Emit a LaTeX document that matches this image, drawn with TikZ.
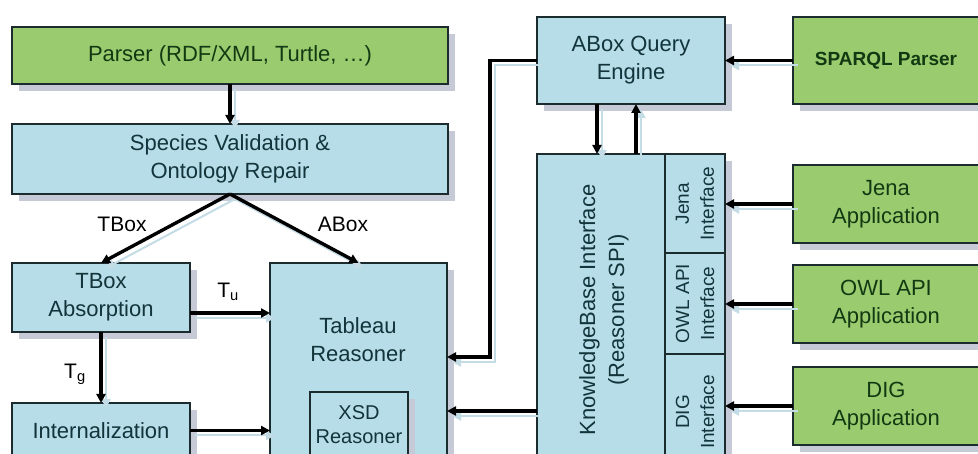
\documentclass[tikz,border=0pt]{standalone}
\usepackage{fontspec}
\setmainfont{Liberation Sans}
\usetikzlibrary{arrows.meta}

\definecolor{boxblue}{HTML}{B7DDE8}
\definecolor{boxgreen}{HTML}{9BCB6F}
\definecolor{edgecol}{HTML}{1C2B2E}
\definecolor{bluetext}{HTML}{12343A}
\definecolor{greentext}{HTML}{123A12}
\definecolor{lineshade}{HTML}{C4DCE6}
\definecolor{boxshade}{HTML}{C6CAD6}

\tikzset{
  basebox/.style={draw=edgecol, line width=2.2pt, inner sep=0pt, outer sep=0pt,
    align=center, anchor=north west},
  bluebox/.style={basebox, fill=boxblue, text=bluetext,
    font=\fontsize{22}{28}\selectfont},
  greenbox/.style={basebox, fill=boxgreen, text=greentext,
    font=\fontsize{22}{28}\selectfont},
  boxtext/.style={text=bluetext, align=center, inner sep=0pt},
  sidetext/.style={boxtext, rotate=90, font=\fontsize{19}{25}\selectfont},
  edgelabel/.style={text=black, inner sep=0pt, font=\fontsize{21}{25}\selectfont},
  arr/.style={line width=3.4pt, -{Triangle[length=9pt,width=9pt]},
    preaction={draw=lineshade, line width=2pt,
      transform canvas={xshift=5pt, yshift=-5pt}}},
  boxshadow/.style={fill=boxshade, draw=none},
}

\begin{document}
\begin{tikzpicture}[x=1pt, y=-1pt]
  \fill[white] (0,0) rectangle (978,454);
  \clip (0,0) rectangle (978,454);

  % left column: parsing and TBox preprocessing
  \node[greenbox, minimum width=436pt, minimum height=57pt] (parser) at (12,27)
    {Parser (RDF/XML, Turtle, \dots)};
  \node[bluebox, minimum width=436pt, minimum height=70pt] (species) at (12,124)
    {Species Validation \&\\Ontology Repair};
  \node[bluebox, minimum width=178pt, minimum height=69pt] (tbox) at (12,263)
    {TBox\\Absorption};
  \node[bluebox, minimum width=178pt, minimum height=55pt] (intern) at (12,403)
    {Internalization};

  % reasoner core
  \node[bluebox, minimum width=177pt, minimum height=217pt] (tab) at (270,263) {};
  \node[boxtext, font=\fontsize{22}{28}\selectfont] (tabtext) at (358,340)
    {Tableau\\Reasoner};
  \node[bluebox, minimum width=98pt, minimum height=66pt,
    font=\fontsize{20}{24}\selectfont] (xsd) at (310,392) {XSD\\Reasoner};

  % query engine and knowledge base interface
  \node[bluebox, minimum width=188pt, minimum height=87pt] (aq) at (537,17)
    {ABox Query\\Engine};
  \node[bluebox, minimum width=128pt, minimum height=326pt] (kb) at (537,154) {};
  \node[boxtext, rotate=90, font=\fontsize{22}{29}\selectfont] (kbtext) at (604,310)
    {KnowledgeBase Interface\\(Reasoner SPI)};
  \node[bluebox, minimum width=60pt, minimum height=99pt] (jint) at (665,154) {};
  \node[sidetext] (jinttext) at (jint.center) {Jena\\Interface};
  \node[bluebox, minimum width=60pt, minimum height=101pt] (oint) at (665,253) {};
  \node[sidetext] (ointtext) at (oint.center) {OWL API\\Interface};
  \node[bluebox, minimum width=60pt, minimum height=126pt] (dint) at (665,354) {};
  \node[sidetext] (dinttext) at (695,412) {DIG\\Interface};

  % client side
  \node[greenbox, minimum width=186pt, minimum height=87pt,
    font=\bfseries\fontsize{19}{24}\selectfont] (sparql) at (793,17) {SPARQL Parser};
  \node[greenbox, minimum width=186pt, minimum height=78pt] (japp) at (793,165)
    {Jena\\Application};
  \node[greenbox, minimum width=186pt, minimum height=78pt] (oapp) at (793,265)
    {OWL API\\Application};
  \node[greenbox, minimum width=186pt, minimum height=78pt] (dapp) at (793,367)
    {DIG\\Application};

  % drop shadows: strips along the right and lower edges of each box
  \fill[boxshadow] (449.2,34) rectangle (455,91);
  \fill[boxshadow] (19,85.2) rectangle (455,91);
  \fill[boxshadow] (449.2,131) rectangle (455,201);
  \fill[boxshadow] (19,195.2) rectangle (455,201);
  \fill[boxshadow] (191.2,270) rectangle (197,339);
  \fill[boxshadow] (19,333.2) rectangle (197,339);
  \fill[boxshadow] (191.2,410) rectangle (197,470);
  \fill[boxshadow] (448.2,270) rectangle (454,470);
  \fill[boxshadow] (409.2,399) rectangle (415,470);
  \fill[boxshadow] (726.2,24) rectangle (732,111);
  \fill[boxshadow] (544,105.2) rectangle (732,111);
  \fill[boxshadow] (726.2,161) rectangle (732,470);
  \fill[boxshadow] (800,105.2) rectangle (990,111);
  \fill[boxshadow] (800,244.2) rectangle (990,250);
  \fill[boxshadow] (800,344.2) rectangle (990,350);
  \fill[boxshadow] (800,446.2) rectangle (990,452);

  % connectors
  \draw[arr] (parser) -- (species);
  \draw[arr] (species.south) -- (tbox.north);
  \draw[arr] (species.south) -- (tab.north);
  \node[edgelabel] (tboxlab) at (122,224) {TBox};
  \node[edgelabel] (aboxlab) at (343,224) {ABox};

  \draw[arr] (tbox.east |- 0,313) -- (tab.west |- 0,313);
  \node[edgelabel] (tulab) at (228,292) {T\textsubscript{u}};
  \draw[arr] (tbox.south) -- (intern.north);
  \node[edgelabel] (tglab) at (75,374) {T\textsubscript{g}};
  \draw[arr] (intern.east) -- (intern.east -| tab.west);

  \draw[arr] (aq.west) -- ++(-47,0) |- (tab.east |- 0,357);
  \draw[arr] (kb.west |- 0,411) -- (tab.east |- 0,411);
  \draw[arr] (aq.south -| 597,0) -- (kb.north -| 597,0);
  \draw[arr] (kb.north -| 636,0) -- (aq.south -| 636,0);

  \draw[arr] (sparql.west) -- (aq.east);
  \draw[arr] (japp.west) -- (japp.west -| jint.east);
  \draw[arr] (oapp.west) -- (oapp.west -| oint.east);
  \draw[arr] (dapp.west) -- (dapp.west -| dint.east);
\end{tikzpicture}
\end{document}
